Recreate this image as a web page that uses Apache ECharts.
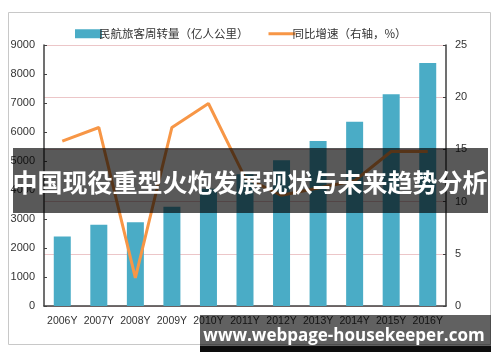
<!DOCTYPE html>
<html>
<head>
<meta charset="utf-8">
<script src="https://cdn.jsdelivr.net/npm/echarts@6/dist/echarts.min.js"></script>
<style>html,body{margin:0;padding:0;background:#fff;}#c{width:500px;height:362px;}</style>
</head>
<body>
<div id="c"></div>
<script>
const categories = ['2006Y','2007Y','2008Y','2009Y','2010Y','2011Y','2012Y','2013Y','2014Y','2015Y','2016Y'];
const rpkValues = [2400, 2800, 2890, 3420, 4040, 4540, 5030, 5690, 6350, 7300, 8380];
const growthValues = [15.8, 17.1, 2.7, 17.1, 19.4, 12.3, 10.6, 11.3, 12.0, 14.8, 14.8];
const leftTicks = {min: 0, max: 9000, interval: 1000};
const rightTicks = {min: 0, max: 25, interval: 5};
const barName = '民航旅客周转量（亿人公里）';
const lineName = '同比增速（右轴，%）';
const bannerText = '中国现役重型火炮发展现状与未来趋势分析';
const watermarkText = 'www.webpage-housekeeper.com';

const chart = echarts.init(document.getElementById('c'), null, {renderer: 'canvas'});
const axisFont = {fontFamily: 'Liberation Sans, Arial, sans-serif', fontSize: 11, color: '#333'};
chart.setOption({
  animation: false,
  backgroundColor: '#fff',
  grid: {left: 44, right: 54, top: 45, bottom: 56},
  legend: {
    top: 23, left: 70, itemGap: 20,
    itemWidth: 27, itemHeight: 9,
    textStyle: {fontFamily: 'Noto Sans CJK SC', fontSize: 11.5, color: '#333', padding: [0,0,0,-8]},
    data: [
      {name: barName, icon: 'rect'},
      {name: lineName, icon: 'path://M0,0 L27,0 L27,3 L0,3 Z', itemStyle: {color: '#f79646'}}
    ]
  },
  xAxis: {
    type: 'category', data: categories, boundaryGap: true,
    axisLine: {lineStyle: {color: '#404040', width: 1.5}},
    axisTick: {inside: true, length: 3, lineStyle: {color: '#404040'}},
    axisLabel: Object.assign({margin: 10, interval: 0}, axisFont, {fontSize: 10.5})
  },
  yAxis: [
    {type: 'value', min: leftTicks.min, max: leftTicks.max, interval: leftTicks.interval,
     axisLine: {show: true, lineStyle: {color: '#404040', width: 1.5}},
     axisTick: {show: true, inside: true, length: 3, lineStyle: {color: '#404040'}},
     splitLine: {show: false},
     axisLabel: Object.assign({margin: 9, formatter: v => String(v)}, axisFont)},
    {type: 'value', min: rightTicks.min, max: rightTicks.max, interval: rightTicks.interval,
     axisLine: {show: true, lineStyle: {color: '#404040', width: 1.5}},
     axisTick: {show: true, inside: true, length: 3, lineStyle: {color: '#404040'}},
     splitLine: {show: true, lineStyle: {color: '#ecc6c8', width: 1}},
     axisLabel: Object.assign({margin: 9, formatter: v => String(v)}, axisFont)}
  ],
  series: [
    {name: barName, type: 'bar', data: rpkValues, barWidth: 17, itemStyle: {color: '#4aacc6'}, yAxisIndex: 0},
    {name: lineName, type: 'line', data: growthValues, yAxisIndex: 1, symbol: 'none',
     lineStyle: {color: '#f79646', width: 3}, itemStyle: {color: '#f79646'}}
  ],
  graphic: [
    {type: 'rect', z: 100, shape: {x: 8.5, y: 12.5, width: 482, height: 332},
     style: {fill: 'none', stroke: '#c8c8c8', lineWidth: 1}},
    {type: 'rect', z: 110, shape: {x: 13, y: 148, width: 475, height: 65},
     style: {fill: 'rgba(0,0,0,0.65)'}},
    {type: 'text', z: 111, x: 250, y: 182,
     style: {text: bannerText, fill: '#fff', font: 'bold 25px "Noto Sans CJK SC"', textAlign: 'center', textVerticalAlign: 'middle'}},
    {type: 'rect', z: 110, shape: {x: 200, y: 315, width: 291, height: 31},
     style: {fill: 'rgba(0,0,0,0.62)'}},
    {type: 'rect', z: 110, shape: {x: 200, y: 346, width: 291, height: 6},
     style: {fill: 'rgba(0,0,0,0.95)'}},
    {type: 'text', z: 111, x: 344, y: 336,
     style: {text: watermarkText, fill: '#fff', font: 'bold 17px "Open Sans"', textAlign: 'center', textVerticalAlign: 'middle'}}
  ]
});
</script>
</body>
</html>
